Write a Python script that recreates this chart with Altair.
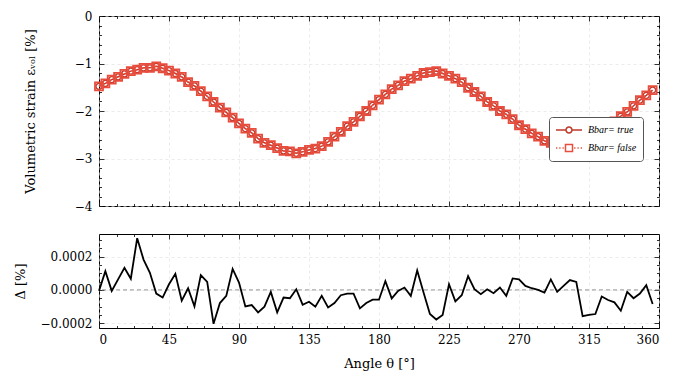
import altair as alt
import pandas as pd

# ---------------- data ----------------
angle_deg = [
    0.0, 4.09, 8.18, 12.27, 16.36, 20.45, 24.55, 28.64, 32.73, 36.82, 40.91,
    45.0, 49.09, 53.18, 57.27, 61.36, 65.45, 69.55, 73.64, 77.73, 81.82, 85.91,
    90.0, 94.09, 98.18, 102.27, 106.36, 110.45, 114.55, 118.64, 122.73, 126.82, 130.91,
    135.0, 139.09, 143.18, 147.27, 151.36, 155.45, 159.55, 163.64, 167.73, 171.82, 175.91,
    180.0, 184.09, 188.18, 192.27, 196.36, 200.45, 204.55, 208.64, 212.73, 216.82, 220.91,
    225.0, 229.09, 233.18, 237.27, 241.36, 245.45, 249.55, 253.64, 257.73, 261.82, 265.91,
    270.0, 274.09, 278.18, 282.27, 286.36, 290.45, 294.55, 298.64, 302.73, 306.82, 310.91,
    315.0, 319.09, 323.18, 327.27, 331.36, 335.45, 339.55, 343.64, 347.73, 351.82, 355.91,
]

strain_bbar_true = [
    -1.48, -1.42, -1.34, -1.28, -1.22, -1.16, -1.13, -1.09, -1.09, -1.06, -1.10,
    -1.15, -1.21, -1.28, -1.39, -1.47, -1.58, -1.69, -1.81, -1.93, -2.03, -2.14,
    -2.26, -2.37, -2.46, -2.58, -2.67, -2.72, -2.78, -2.84, -2.85, -2.89, -2.86,
    -2.82, -2.79, -2.74, -2.65, -2.54, -2.44, -2.32, -2.23, -2.11, -2.00, -1.88,
    -1.76, -1.65, -1.54, -1.46, -1.37, -1.32, -1.26, -1.20, -1.18, -1.16, -1.21,
    -1.26, -1.32, -1.39, -1.51, -1.60, -1.69, -1.81, -1.89, -2.00, -2.07, -2.17,
    -2.30, -2.38, -2.47, -2.54, -2.63, -2.67, -2.70, -2.72, -2.73, -2.72, -2.68,
    -2.62, -2.54, -2.43, -2.33, -2.22, -2.11, -2.02, -1.89, -1.77, -1.67, -1.56,
]

# the two series coincide at the resolution of the picture
strain_bbar_false = [
    -1.48, -1.42, -1.34, -1.28, -1.22, -1.16, -1.13, -1.09, -1.09, -1.06, -1.10,
    -1.15, -1.21, -1.28, -1.39, -1.47, -1.58, -1.69, -1.81, -1.93, -2.03, -2.14,
    -2.26, -2.37, -2.46, -2.58, -2.67, -2.72, -2.78, -2.84, -2.85, -2.89, -2.86,
    -2.82, -2.79, -2.74, -2.65, -2.54, -2.44, -2.32, -2.23, -2.11, -2.00, -1.88,
    -1.76, -1.65, -1.54, -1.46, -1.37, -1.32, -1.26, -1.20, -1.18, -1.16, -1.21,
    -1.26, -1.32, -1.39, -1.51, -1.60, -1.69, -1.81, -1.89, -2.00, -2.07, -2.17,
    -2.30, -2.38, -2.47, -2.54, -2.63, -2.67, -2.70, -2.72, -2.73, -2.72, -2.68,
    -2.62, -2.54, -2.43, -2.33, -2.22, -2.11, -2.02, -1.89, -1.77, -1.67, -1.56,
]

delta_pct = [
    -0.000006, 0.000113, -0.000006, 0.000063, 0.000133, 0.000067, 0.000311, 0.000182,
    0.000103, -0.000022, -0.000046, 0.000034, 0.000097, -0.000065, 0.000010, -0.000099,
    0.000089, 0.000048, -0.000204, -0.000079, -0.000036, 0.000126, 0.000044, -0.000099,
    -0.000091, -0.000135, -0.000101, -0.000012, -0.000135, -0.000046, -0.000050, 0.000004,
    -0.000089, -0.000071, -0.000101, -0.000036, -0.000105, -0.000079, -0.000032, -0.000022,
    -0.000022, -0.000111, -0.000079, -0.000059, -0.000059, 0.000053, -0.000051, -0.000006,
    0.000014, -0.000036, 0.000117, -0.000016, -0.000145, -0.000178, -0.000150, 0.000034,
    -0.000069, -0.000032, 0.000083, 0.000004, -0.000026, 0.000004, -0.000020, 0.000014,
    -0.000036, 0.000069, 0.000063, 0.000024, 0.000010, 0.000000, -0.000016, 0.000063,
    -0.000012, 0.000024, 0.000059, 0.000048, -0.000158, -0.000150, -0.000145, -0.000040,
    -0.000061, -0.000075, -0.000125, -0.000012, -0.000050, -0.000022, 0.000028, -0.000085,
]

series_labels = ["Bbar= true", "Bbar= false"]
zero_level = [0.0]

x_major = [0, 45, 90, 135, 180, 225, 270, 315, 360]
x_minor = [11.25, 22.5, 33.75, 56.25, 67.5, 78.75, 101.25, 112.5, 123.75,
           146.25, 157.5, 168.75, 191.25, 202.5, 213.75, 236.25, 247.5, 258.75,
           281.25, 292.5, 303.75, 326.25, 337.5, 348.75]
y_top_major = [-4, -3, -2, -1, 0]
y_top_minor = [-3.8, -3.6, -3.4, -3.2, -2.8, -2.6, -2.4, -2.2, -1.8, -1.6,
               -1.4, -1.2, -0.8, -0.6, -0.4, -0.2]
y_bot_major = [-0.0002, 0.0, 0.0002]
y_bot_minor = [-0.00015, -0.0001, -0.00005, 0.00005, 0.0001, 0.00015, 0.00025, 0.0003]

# ---------------- styling ----------------
FONT = "DejaVu Serif"
C_TRUE = "#c0392b"
C_FALSE = "#e74c3c"

# legend glyphs (unit = 13 px with symbolSize 676): line + marker
PATH_TRUE = ("M-1,0L-0.23,0M0.23,0L1,0"
             "M0.23,0A0.23,0.23,0,1,1,-0.23,0A0.23,0.23,0,1,1,0.23,0")
PATH_FALSE = ("M-1,0L-0.9,0M-0.75,0L-0.65,0M-0.5,0L-0.4,0"
              "M0.4,0L0.5,0M0.65,0L0.75,0M0.9,0L1,0"
              "M-0.27,-0.27L0.27,-0.27L0.27,0.27L-0.27,0.27Z")

n = len(angle_deg)
long_df = pd.DataFrame({
    "angle": angle_deg + angle_deg,
    "strain": strain_bbar_true + strain_bbar_false,
    "series": [series_labels[0]] * n + [series_labels[1]] * n,
})
delta_df = pd.DataFrame({"angle": angle_deg, "delta": delta_pct})
zero_df = pd.DataFrame({"level": zero_level})

X_SCALE = alt.Scale(domain=[0, 360], nice=False, zero=False)
Y_TOP = alt.Scale(domain=[-4, 0], nice=False, zero=False)
Y_BOT = alt.Scale(domain=[-0.000229, 0.000336], nice=False, zero=False)


def tick_axis(orient, values, size):
    return alt.Axis(orient=orient, values=values, labels=False, domain=False,
                    grid=False, ticks=True, tickSize=size, offset=-size,
                    tickColor="black", tickWidth=0.8, title=None)


def carrier_layers(data, ycol, yscale, x_lab_axis, y_lab_axis, y_major, y_minor):
    base = alt.Chart(data)

    def carrier(xax, yax):
        return base.mark_point(opacity=0).encode(
            x=alt.X("angle:Q", scale=X_SCALE, axis=xax),
            y=alt.Y(f"{ycol}:Q", scale=yscale, axis=yax),
        )

    return [
        carrier(x_lab_axis, y_lab_axis),
        carrier(tick_axis("bottom", x_major, 5), tick_axis("left", y_major, 5)),
        carrier(tick_axis("bottom", x_minor, 2.5), tick_axis("left", y_minor, 2.5)),
        carrier(tick_axis("top", x_major, 5), tick_axis("right", y_major, 5)),
        carrier(tick_axis("top", x_minor, 2.5), tick_axis("right", y_minor, 2.5)),
    ]


# ---------------- top panel ----------------
top_x_axis = alt.Axis(orient="bottom", values=x_major, labels=False, ticks=False,
                      tickSize=0, domain=False, grid=True, title=None)
top_y_axis = alt.Axis(orient="left", values=y_top_major, labels=True, format=".0f",
                      ticks=False, tickSize=0, labelPadding=7, domain=False, grid=True,
                      title="Volumetric strain εᵥₒₗ [%]", titleX=-69,
                      titleBaseline="middle", titleAngle=-90)

top_axes = carrier_layers(long_df, "strain", Y_TOP, top_x_axis, top_y_axis,
                          y_top_major, y_top_minor)

enc_top = dict(
    x=alt.X("angle:Q", scale=X_SCALE, axis=None),
    y=alt.Y("strain:Q", scale=Y_TOP, axis=None),
)
line_true = alt.Chart(long_df).transform_filter(
    alt.datum.series == series_labels[0]
).mark_line(color=C_TRUE, strokeWidth=1.5).encode(**enc_top)
pts_true = alt.Chart(long_df).transform_filter(
    alt.datum.series == series_labels[0]
).mark_point(shape="circle", filled=False, color=C_TRUE, size=36,
             strokeWidth=1.3, opacity=1).encode(**enc_top)
line_false = alt.Chart(long_df).transform_filter(
    alt.datum.series == series_labels[1]
).mark_line(color=C_FALSE, strokeWidth=1.5, strokeDash=[1.5, 2.5]).encode(**enc_top)
pts_false = alt.Chart(long_df).transform_filter(
    alt.datum.series == series_labels[1]
).mark_point(shape="square", filled=False, color=C_FALSE, size=64,
             strokeWidth=1.8, opacity=1).encode(**enc_top)

legend_cfg = dict(
    orient="none", legendX=450, legendY=101, title=None,
    fillColor="white", strokeColor="#555555", cornerRadius=3, padding=6,
    symbolSize=676, symbolStrokeWidth=1.5, clipHeight=14, labelOffset=5,
    labelFont="Liberation Serif", labelFontStyle="italic", labelFontSize=10,
    labelColor="black", rowPadding=4,
)
legend_layer = alt.Chart(long_df).transform_filter(
    "datum.angle < 0"
).mark_point(filled=False, opacity=1).encode(
    x=alt.X("angle:Q", scale=X_SCALE, axis=None),
    y=alt.Y("strain:Q", scale=Y_TOP, axis=None),
    color=alt.Color("series:N",
                    scale=alt.Scale(domain=series_labels, range=[C_TRUE, C_FALSE]),
                    legend=alt.Legend(**legend_cfg)),
    shape=alt.Shape("series:N",
                    scale=alt.Scale(domain=series_labels, range=[PATH_TRUE, PATH_FALSE]),
                    legend=alt.Legend(**legend_cfg)),
)

top = alt.layer(
    *top_axes, line_true, pts_true, line_false, pts_false, legend_layer
).resolve_axis(x="independent", y="independent").properties(width=560, height=190)

# ---------------- bottom panel ----------------
bot_x_axis = alt.Axis(orient="bottom", values=x_major, labels=True, format="d",
                      ticks=False, tickSize=0, labelPadding=6, domain=False,
                      grid=True, title="Angle θ [°]", titleY=35,
                      titleBaseline="middle")
bot_y_axis = alt.Axis(orient="left", values=y_bot_major, labels=True, format=".4f",
                      ticks=False, tickSize=0, labelPadding=7, domain=False, grid=True,
                      title="Δ [%]", titleX=-79, titleBaseline="middle",
                      titleAngle=-90)

bot_axes = carrier_layers(delta_df, "delta", Y_BOT, bot_x_axis, bot_y_axis,
                          y_bot_major, y_bot_minor)

zero_rule = alt.Chart(zero_df).mark_rule(
    color="#8a8a8a", strokeDash=[4, 3], strokeWidth=0.9
).encode(y=alt.Y("level:Q", scale=Y_BOT, axis=None))

delta_line = alt.Chart(delta_df).mark_line(color="black", strokeWidth=1.8).encode(
    x=alt.X("angle:Q", scale=X_SCALE, axis=None),
    y=alt.Y("delta:Q", scale=Y_BOT, axis=None),
)

bottom = alt.layer(
    *bot_axes, zero_rule, delta_line
).resolve_axis(x="independent", y="independent").properties(width=560, height=94)

chart = alt.vconcat(top, bottom, spacing=20).properties(
    padding={"left": 5, "top": 1, "right": 5, "bottom": 5}
).configure_view(
    stroke="black", strokeWidth=1
).configure_axis(
    labelFont=FONT, titleFont=FONT, labelColor="black", titleColor="black",
    labelFontSize=12, titleFontSize=13, titleFontWeight="normal",
    gridColor="#dddddd", gridDash=[3, 3], gridWidth=0.6,
)

chart.save("out.html", embed_options={"renderer": "svg", "actions": False})
